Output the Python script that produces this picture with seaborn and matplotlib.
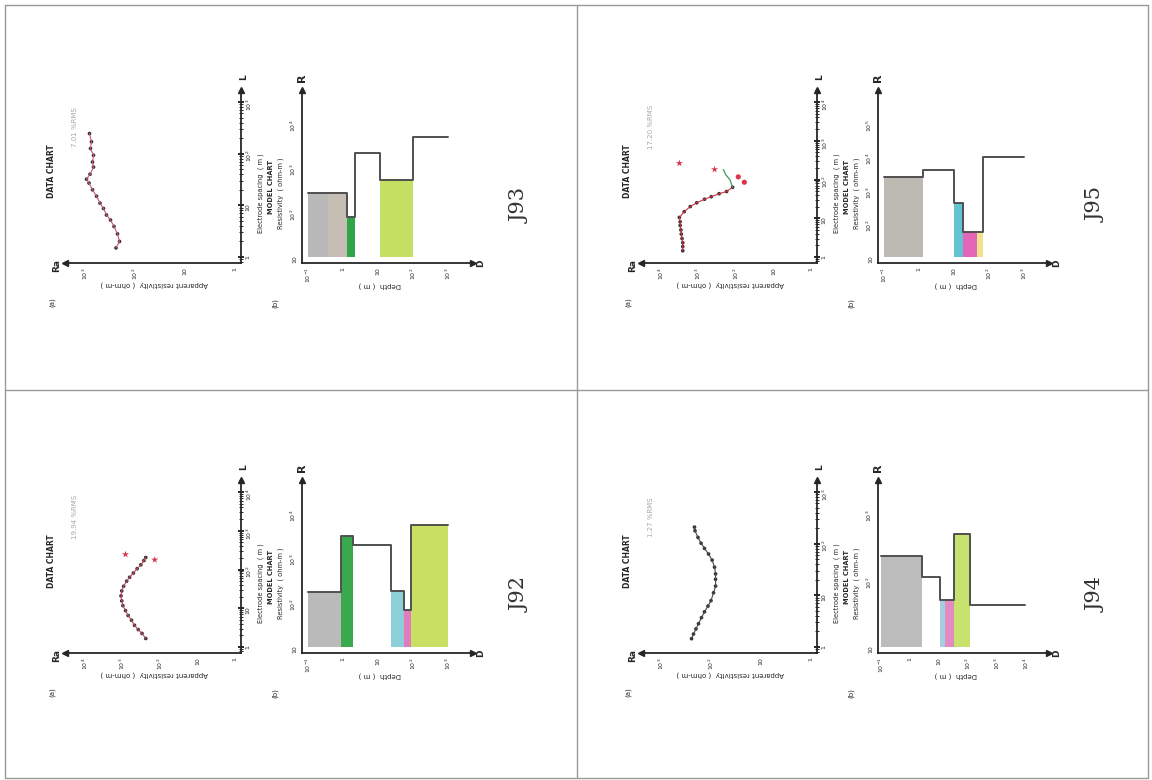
import numpy as np
import matplotlib
matplotlib.use("Agg")
import matplotlib.pyplot as plt
import seaborn as sns
from matplotlib.lines import Line2D
from matplotlib.ticker import LogLocator, NullFormatter

# ---------------- data ----------------
# J93 (top left)
j93_spacing = [1.5, 2.0, 2.8, 3.9, 5.2, 6.5, 8.7, 11, 15, 20, 27, 32, 40, 55, 69, 93, 126, 170, 245]
j93_rho_a   = [240, 204, 224, 263, 309, 372, 427, 501, 589, 708, 832, 933, 794, 676, 708, 676, 776, 741, 813]
j93_depth   = [0.1, 0.37, 1.3, 2.2, 11.4, 100, 1000]
j93_res     = [270, 270, 78, 2140, 525, 4800]
j93_colors  = ['#b9b9b9', '#c6bdb5', '#2fa548', None, '#c5df62', None]

# J95 (top right)
j95_spacing = [1.45, 1.86, 2.34, 3.0, 3.9, 5.0, 6.5, 8.1, 10.5, 14.8, 20, 25, 31, 36, 43, 49, 63, 98, 132, 182]
j95_rho_a   = [2630, 2630, 2630, 2750, 2880, 2950, 3090, 3090, 3240, 2400, 1660, 1120, 690, 457, 282, 178, 123, 145, 186, 219]
j95_star_rho = [3240, 372]
j95_star_L   = [263, 182]
j95_dot_rho  = [87, 60]
j95_dot_L    = [117, 85]
j95_depth   = [0.1, 1.3, 10.3, 17.5, 46, 68, 1000]
j95_res     = [2450, 4000, 410, 56, 56, 9800]
j95_colors  = ['#bdbab3', None, '#62c4d0', '#e466b8', '#efe48c', None]

# J92 (bottom left)
j92_spacing = [1.66, 2.24, 2.82, 3.63, 4.9, 6.5, 8.7, 11.7, 15.5, 20.9, 28, 37, 50, 63, 81, 105, 132, 170, 204]
j92_rho_a   = [240, 302, 380, 479, 575, 708, 832, 977, 1047, 1096, 1047, 933, 776, 646, 513, 407, 324, 269, 240]
j92_star_rho = [832, 138]
j92_star_L   = [245, 178]
j92_depth   = [0.1, 0.88, 1.9, 23, 55, 87, 1000]
j92_res     = [172, 3100, 1900, 178, 69, 5400]
j92_colors  = ['#bababa', '#3aa84c', None, '#8ccfd8', '#e07cbc', '#c7e064']

# J94 (bottom right)
j94_spacing = [1.45, 1.78, 2.24, 2.82, 3.7, 4.8, 6.2, 7.9, 11.2, 15.1, 20.4, 26, 35, 48, 63, 81, 102, 132, 178, 209]
j94_rho_a   = [245, 224, 200, 178, 155, 135, 115, 100, 89, 81, 81, 81, 85, 95, 112, 135, 158, 182, 209, 214]
j94_depth   = [0.1, 2.6, 10.7, 16.7, 34, 117, 9300]
j94_res     = [230, 112, 50, 50, 490, 42]
j94_colors  = ['#bcbcbc', None, '#a6cde0', '#e38bc0', '#c8e26e', None]

rms_text = {"J93": "7.01 %RMS", "J95": "17.20 %RMS", "J92": "19.94 %RMS", "J94": "1.27 %RMS"}

W, H = 1152, 780
INK = '#262626'

sns.set_style("white")
plt.rcParams['font.family'] = ['DejaVu Sans']
fig = plt.figure(figsize=(W / 100, H / 100), dpi=100)
fig.patch.set_facecolor('white')


def rect(ox, oy, l, t, r, b):
    return [(ox + l) / W, 1 - (oy + b) / H, (r - l) / W, (b - t) / H]


def log_lim(p0, p1, pa, ea, pb, eb):
    s = (eb - ea) / (pb - pa)
    return 10 ** (ea + (p0 - pa) * s), 10 ** (ea + (p1 - pa) * s)


def exp_label(e):
    if e == 0:
        return '1'
    if e == 1:
        return '10'
    return '10$^{%d}$' % e


def style_axis(ax, which_spines):
    for k, sp in ax.spines.items():
        sp.set_visible(k in which_spines)
        sp.set_linewidth(1.3)
        sp.set_color(INK)
    ax.set_facecolor('none')
    ax.tick_params(which='major', direction='inout', length=5, width=1.4,
                   colors=INK, labelsize=4.5, labelrotation=90, pad=0.5)
    ax.tick_params(which='minor', direction='inout', length=2.5, width=0.7, colors=INK)
    ax.xaxis.set_minor_locator(LogLocator(base=10, subs=np.arange(2, 10)))
    ax.yaxis.set_minor_locator(LogLocator(base=10, subs=np.arange(2, 10)))
    ax.xaxis.set_minor_formatter(NullFormatter())
    ax.yaxis.set_minor_formatter(NullFormatter())
    ax.grid(False)


def txt(ox, oy, x, y, s, **kw):
    fig.text((ox + x) / W, 1 - (oy + y) / H, s, ha='center', va='center', **kw)


def panel(ox, oy, name, spacing, rho_a, line_color, nx, ny,
          depth, res, colors, d_ticks, r_max, d_px=(308, 448),
          extra=None):
    # data chart
    ax = fig.add_axes(rect(ox, oy, 65, 90, 241, 263))
    ax.set_xscale('log')
    ax.set_yscale('log')
    x0, x1 = log_lim(65, 241, 235, 0, 85, nx)
    y0, y1 = log_lim(263, 90, 257, 0, 102, ny)
    ax.set_xlim(x0, x1)
    ax.set_ylim(y0, y1)
    sns.lineplot(x=rho_a, y=spacing, sort=False, estimator=None,
                 color=line_color, lw=0.8, ax=ax)
    sns.scatterplot(x=rho_a, y=spacing, s=7, color='#333333',
                    edgecolor='none', ax=ax)
    if extra is not None:
        extra(ax)
    ax.yaxis.tick_right()
    ax.set_xticks(10.0 ** np.arange(nx + 1), [exp_label(e) for e in range(nx + 1)])
    ax.set_yticks(10.0 ** np.arange(ny + 1), [exp_label(e) for e in range(ny + 1)])
    style_axis(ax, ['bottom', 'right'])
    ax.set_xlabel('')
    ax.set_ylabel('')
    ax.plot([0], [0], marker='<', ms=4, color=INK, transform=ax.transAxes, clip_on=False)
    ax.plot([1], [1], marker='^', ms=4, color=INK, transform=ax.transAxes, clip_on=False)

    # model chart
    bx = fig.add_axes(rect(ox, oy, 302, 90, 473, 263))
    bx.set_xscale('log')
    bx.set_yscale('log')
    bx.set_xlim(*log_lim(302, 473, d_px[0], -1, d_px[1], d_ticks))
    bx.set_ylim(*log_lim(263, 90, 257, 1, 123, r_max))
    for i, c in enumerate(colors):
        if c is not None:
            bx.fill_between([depth[i], depth[i + 1]], 10, res[i], color=c, lw=0)
    sns.lineplot(x=depth, y=list(res) + [res[-1]], sort=False, estimator=None,
                 drawstyle='steps-post', color='#505050', lw=1.4, ax=bx)
    bx.set_xticks(10.0 ** np.arange(-1, d_ticks + 1),
                  [exp_label(e) for e in range(-1, d_ticks + 1)])
    bx.set_yticks(10.0 ** np.arange(1, r_max + 1),
                  [exp_label(e) for e in range(1, r_max + 1)])
    style_axis(bx, ['bottom', 'left'])
    bx.set_xlabel('')
    bx.set_ylabel('')
    bx.plot([1], [0], marker='>', ms=4, color=INK, transform=bx.transAxes, clip_on=False)
    bx.plot([0], [1], marker='^', ms=4, color=INK, transform=bx.transAxes, clip_on=False)

    # texts
    txt(ox, oy, 52, 171, 'DATA CHART', rotation=90, fontsize=5.5, fontweight='bold', color=INK)
    txt(ox, oy, 75, 127, rms_text[name], rotation=90, fontsize=5, color='#a8a8a8')
    txt(ox, oy, 52, 302, '(a)', rotation=90, fontsize=5, color=INK)
    txt(ox, oy, 275, 303, '(b)', rotation=90, fontsize=5, color=INK)
    txt(ox, oy, 57, 265, 'Ra', rotation=90, fontsize=6.5, fontweight='bold', color=INK)
    txt(ox, oy, 244, 77, 'L', rotation=90, fontsize=6.5, fontweight='bold', color=INK)
    txt(ox, oy, 302, 78, 'R', rotation=90, fontsize=8, fontweight='bold', color=INK)
    txt(ox, oy, 481, 263, 'D', rotation=90, fontsize=6.5, fontweight='bold', color=INK)
    txt(ox, oy, 261, 193, 'Electrode spacing  ( m )', rotation=90, fontsize=4.8, color=INK)
    txt(ox, oy, 271, 187, 'MODEL CHART', rotation=90, fontsize=4.8, fontweight='bold', color=INK)
    txt(ox, oy, 281, 193, 'Resistivity  ( ohm-m )', rotation=90, fontsize=4.8, color=INK)
    txt(ox, oy, 154, 284, 'Apparent resistivity  ( ohm-m )', rotation=180, fontsize=5, color=INK)
    txt(ox, oy, 380, 285, 'Depth  ( m )', rotation=180, fontsize=5, color=INK)
    txt(ox, oy, 520, 205, name, rotation=90, fontsize=15, color='#333333',
        family=['DejaVu Serif'])


def j95_extra(ax):
    sns.lineplot(x=j95_rho_a[16:], y=j95_spacing[16:], sort=False, estimator=None,
                 color='#3c9a5c', lw=0.9, ax=ax)
    sns.scatterplot(x=j95_star_rho, y=j95_star_L, marker='*', s=28,
                    color='#d8364a', edgecolor='none', ax=ax)
    sns.scatterplot(x=j95_dot_rho, y=j95_dot_L, s=14,
                    color='#d8364a', edgecolor='none', ax=ax)


def j92_extra(ax):
    sns.scatterplot(x=j92_star_rho, y=j92_star_L, marker='*', s=28,
                    color='#d8364a', edgecolor='none', ax=ax)


panel(0, 0, "J93", j93_spacing, j93_rho_a, '#cc5670', 3, 3,
      j93_depth, j93_res, j93_colors, 3, 4)
panel(576, 0, "J95", j95_spacing[:17], j95_rho_a[:17], '#cc3344', 4, 4,
      j95_depth, j95_res, j95_colors, 3, 5, extra=j95_extra)
panel(0, 390, "J92", j92_spacing, j92_rho_a, '#c84a62', 4, 4,
      j92_depth, j92_res, j92_colors, 3, 4, extra=j92_extra)
panel(576, 390, "J94", j94_spacing, j94_rho_a, '#4a4a4a', 3, 3,
      j94_depth, j94_res, j94_colors, 4, 3, d_px=(305, 450))

# scan frame
for (xa, ya, xb, yb) in [(5, 5, 1148, 5), (5, 5, 5, 778), (577, 5, 577, 778),
                         (5, 390, 1148, 390), (5, 778, 1148, 778), (1148, 5, 1148, 778)]:
    fig.add_artist(Line2D([xa / W, xb / W], [1 - ya / H, 1 - yb / H],
                          transform=fig.transFigure, color='#9a9a9a', lw=1))

fig.savefig("out.png", dpi=100, facecolor='white')
